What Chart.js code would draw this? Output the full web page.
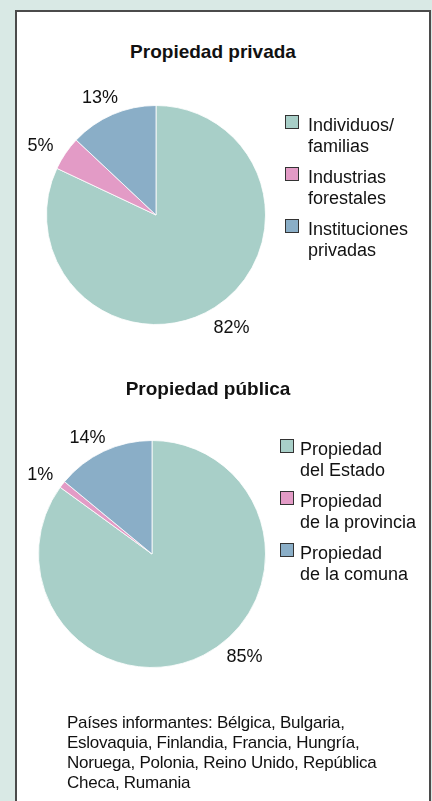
<!DOCTYPE html>
<html lang="es">
  <head>
    <meta charset="utf-8" />
    <title>Propiedad privada y pública</title>
    <style>
      * {
        margin: 0;
        padding: 0;
      }
      body {
        width: 432px;
        height: 801px;
        overflow: hidden;
        background: #d9e9e5;
        font-family: "Liberation Sans", Arial, sans-serif;
        color: #111;
        position: relative;
      }
      .box {
        position: absolute;
        left: 15px;
        top: 10px;
        width: 412px;
        height: 820px;
        border: 2px solid #4b4b4b;
        background: #fff;
      }
      canvas {
        position: absolute;
        left: 0;
      }
      .title {
        position: absolute;
        font-weight: bold;
        font-size: 19px;
        line-height: 22px;
        white-space: nowrap;
        transform: translateX(-50%);
      }
      .legend {
        position: absolute;
        font-size: 18px;
        line-height: 21px;
      }
      .legend .item {
        position: relative;
        height: 52px;
      }
      .legend .sw {
        position: absolute;
        left: 0;
        top: 0;
        width: 12px;
        height: 12px;
        border: 1px solid #333;
      }
      .note {
        position: absolute;
        left: 67px;
        top: 713px;
        width: 340px;
        font-size: 17px;
        line-height: 20px;
        letter-spacing: -0.25px;
      }
    </style>
  </head>
  <body>
    <div class="box"></div>
    <div class="title" style="left: 213px; top: 41px">Propiedad privada</div>
    <canvas id="privada" width="432" height="320" style="top: 60px"></canvas>
    <div class="legend" id="legPrivada" style="left: 285px; top: 115px"></div>

    <div class="title" style="left: 208px; top: 378px">Propiedad pública</div>
    <canvas id="publica" width="432" height="340" style="top: 395px"></canvas>
    <div class="legend" id="legPublica" style="left: 280px; top: 439px"></div>

    <div class="note">
      Países informantes: Bélgica, Bulgaria, Eslovaquia, Finlandia, Francia, Hungría,
      Noruega, Polonia, Reino Unido, República Checa, Rumania
    </div>

    <script src="https://cdn.jsdelivr.net/npm/chart.js"></script>
    <script>
      const privadaLabels = [
        ["Individuos/", "familias"],
        ["Industrias", "forestales"],
        ["Instituciones", "privadas"],
      ];
      const privadaValues = [82, 5, 13];

      const publicaLabels = [
        ["Propiedad", "del Estado"],
        ["Propiedad", "de la provincia"],
        ["Propiedad", "de la comuna"],
      ];
      const publicaValues = [85, 1, 14];

      const sliceColors = ["#a8cfc8", "#e39bc6", "#8aaec7"];

      // percentages drawn just outside each slice
      const pctLabels = {
        id: "pctLabels",
        afterDatasetsDraw(chart, args, opts) {
          const { ctx } = chart;
          const meta = chart.getDatasetMeta(0);
          const values = chart.data.datasets[0].data;
          ctx.save();
          ctx.font = "18px 'Liberation Sans', Arial, sans-serif";
          ctx.fillStyle = "#111";
          ctx.textAlign = "center";
          ctx.textBaseline = "middle";
          meta.data.forEach((arc, i) => {
            const { x, y, startAngle, endAngle, outerRadius } = arc.getProps(
              ["x", "y", "startAngle", "endAngle", "outerRadius"],
              true
            );
            const mid = (startAngle + endAngle) / 2;
            const d = outerRadius + opts.offset;
            const nudge = opts.nudge[i] || [0, 0];
            ctx.fillText(
              values[i] + "%",
              x + Math.cos(mid) * d + nudge[0],
              y + Math.sin(mid) * d + nudge[1]
            );
          });
          ctx.restore();
        },
      };

      function makePie(id, values, padding, nudge) {
        return new Chart(document.getElementById(id), {
          type: "pie",
          data: {
            labels: values.map((v, i) => i),
            datasets: [
              {
                data: values,
                backgroundColor: sliceColors,
                borderColor: "rgba(255,255,255,0.8)",
                borderWidth: 1,
                hoverOffset: 0,
              },
            ],
          },
          options: {
            responsive: false,
            animation: false,
            layout: { padding: padding },
            plugins: {
              legend: { display: false },
              tooltip: { enabled: false },
              pctLabels: { offset: 24, nudge: nudge },
            },
          },
          plugins: [pctLabels],
        });
      }

      function makeLegend(id, labels) {
        const el = document.getElementById(id);
        labels.forEach((lines, i) => {
          const item = document.createElement("div");
          item.className = "item";
          const sw = document.createElement("span");
          sw.className = "sw";
          sw.style.background = sliceColors[i];
          const txt = document.createElement("div");
          txt.style.marginLeft = id === "legPrivada" ? "23px" : "20px";
          txt.innerHTML = lines.join("<br>");
          item.appendChild(sw);
          item.appendChild(txt);
          el.appendChild(item);
        });
      }

      makePie(
        "privada",
        privadaValues,
        { left: 46, right: 166, top: 45, bottom: 55 },
        [[4, 0], [-5, 6], [-3, 6]]
      );
      makePie(
        "publica",
        publicaValues,
        { left: 38, right: 166, top: 45, bottom: 67 },
        [[30, -19], [-3, 5], [-6, 8]]
      );

      makeLegend("legPrivada", privadaLabels);
      makeLegend("legPublica", publicaLabels);
    </script>
  </body>
</html>
